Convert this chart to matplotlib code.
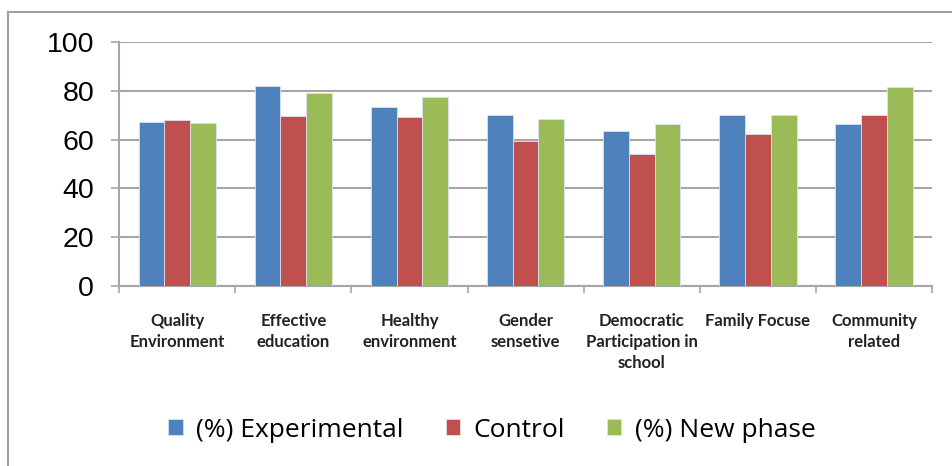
import matplotlib.pyplot as plt
import numpy as np

categories = ["Quality\nEnvironment", "Effective\neducation", "Healthy\nenvironment",
              "Gender\nsensetive", "Democratic\nParticipation in\nschool",
              "Family Focuse", "Community\nrelated"]
experimental = [67.3, 82.0, 73.5, 70.2, 63.5, 70.1, 66.3]
control = [67.9, 69.5, 69.1, 59.5, 54.2, 62.3, 70.1]
new_phase = [66.7, 79.1, 77.5, 68.4, 66.3, 70.1, 81.4]
series_names = ["(%) Experimental", "Control", "(%) New phase"]
colors = ["#4F81BD", "#C0504D", "#9BBB59"]

fig = plt.figure(figsize=(9.53, 4.66), dpi=100)
ax = fig.add_axes([0.125, 0.386, 0.853, 0.524])

x = np.arange(len(categories))
w = 0.222
for i, (vals, name, c) in enumerate(zip([experimental, control, new_phase], series_names, colors)):
    ax.bar(x + (i - 1) * w, vals, w, color=c, label=name, edgecolor="#d8e2ef",
           linewidth=0.6, zorder=3)

ax.set_xlim(-0.5, len(categories) - 0.5)
ax.set_ylim(0, 100)
ax.set_yticks(range(0, 101, 20))
ax.yaxis.grid(True, color="#a6a6a6", linewidth=1.5, zorder=0)
ax.tick_params(axis="y", labelsize=20.5, length=6, width=1.2, color="#a6a6a6", pad=12)
for t in ax.get_yticklabels():
    t.set_family("Liberation Sans")

ax.set_xticks(x)
ax.set_xticklabels(categories, fontsize=12, family="Lato", fontweight="bold", color="#222222",
                   linespacing=1.4, va="top")
ax.tick_params(axis="x", length=0, pad=19)
ax.set_xticks(np.arange(-0.5, len(categories)), minor=True)
ax.tick_params(axis="x", which="minor", length=5, width=1.2, color="#a6a6a6")

for s in ["top", "right"]:
    ax.spines[s].set_visible(False)
for s in ["left", "bottom"]:
    ax.spines[s].set_color("#a6a6a6")
    ax.spines[s].set_linewidth(1.5)

fig.legend(loc="center", bbox_to_anchor=(0.516, 0.077), ncol=3, frameon=False,
           prop={"family": "Open Sans", "size": 19}, handlelength=0.55, handleheight=0.55,
           handletextpad=0.5, columnspacing=1.6)

# page border lines
fig.add_artist(plt.Line2D([0.0085, 0.0085], [0, 0.975], transform=fig.transFigure,
                          color="#a0a0a0", linewidth=1.5))
fig.add_artist(plt.Line2D([0.0085, 1], [0.975, 0.975], transform=fig.transFigure,
                          color="#a0a0a0", linewidth=1.5))

fig.savefig("out.png", dpi=100)
